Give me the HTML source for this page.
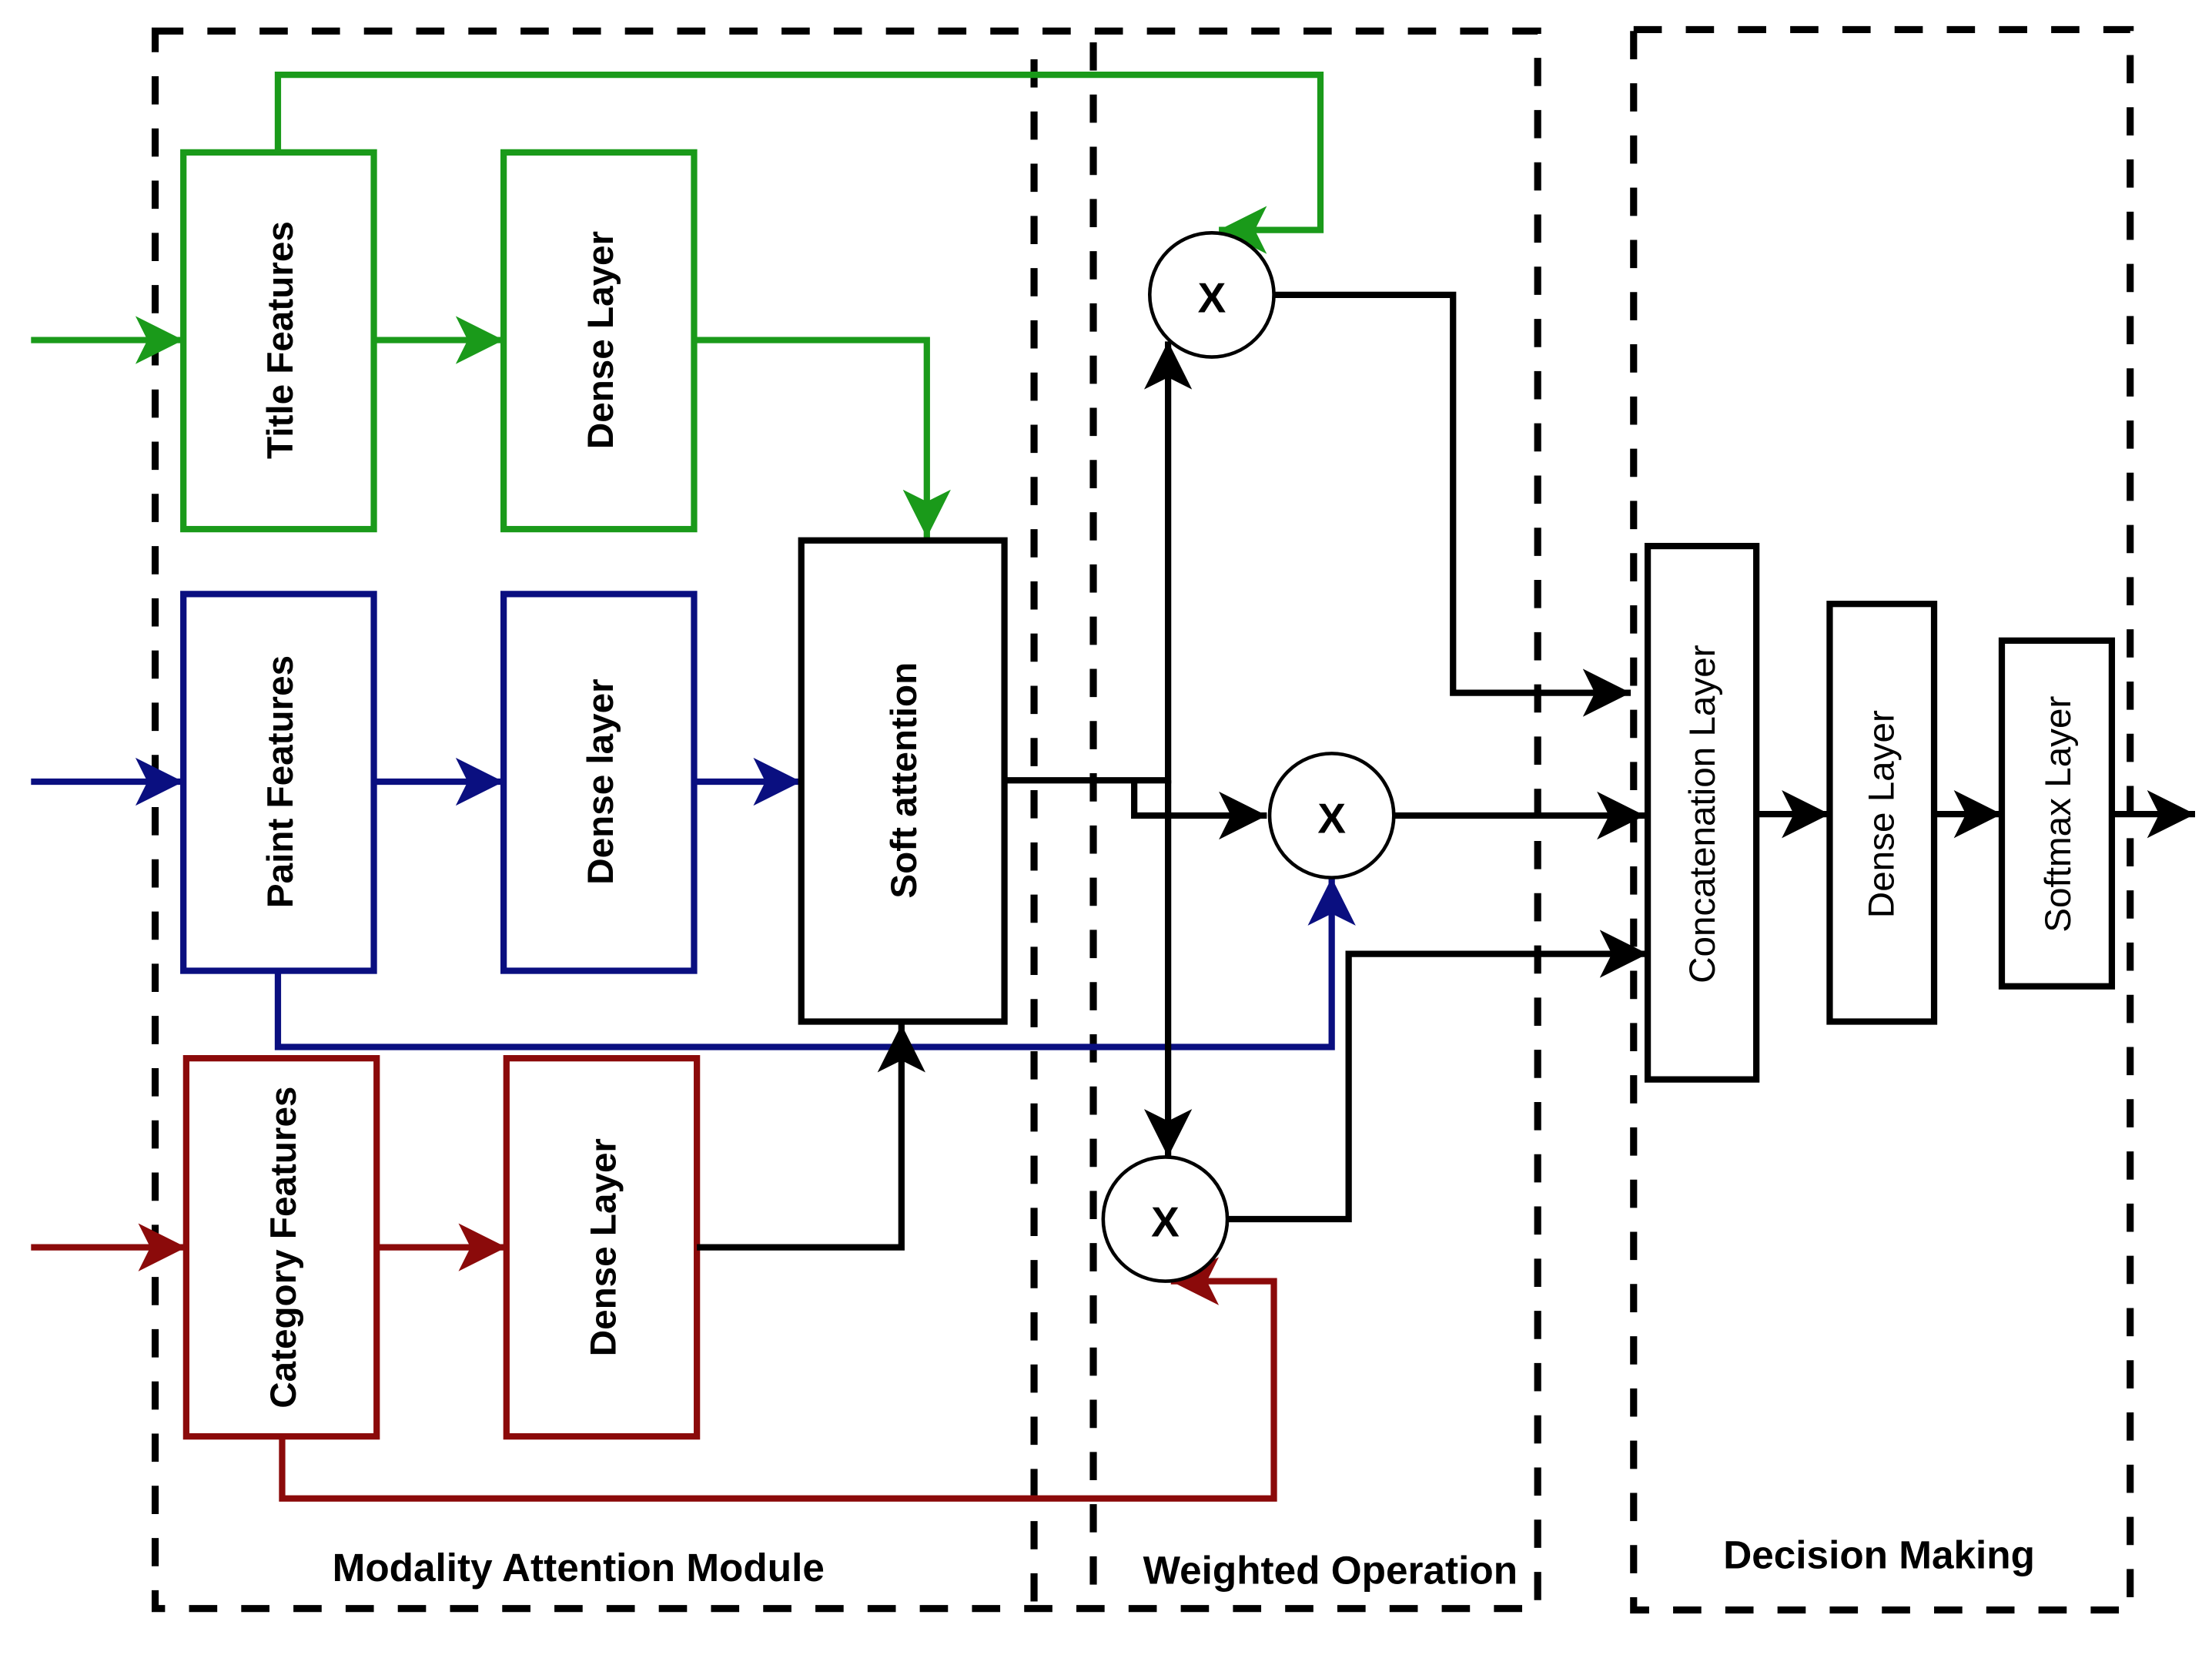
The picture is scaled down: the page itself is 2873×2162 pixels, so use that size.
<!DOCTYPE html>
<html><head><meta charset="utf-8"><style>
html,body{margin:0;padding:0;background:#fff;}
svg{display:block;}
text{font-family:"Liberation Sans",Arial,sans-serif;}
</style></head><body>
<svg width="2873" height="2162" viewBox="0 0 1568 1180" preserveAspectRatio="none" xmlns="http://www.w3.org/2000/svg">
<defs>
<marker id="ak" viewBox="0 0 20 20" refX="20" refY="10" markerWidth="34" markerHeight="34" markerUnits="userSpaceOnUse" orient="auto"><path d="M0,0 L20,10 L0,20 L5,10 z" fill="#000"/></marker>
<marker id="ag" viewBox="0 0 20 20" refX="20" refY="10" markerWidth="34" markerHeight="34" markerUnits="userSpaceOnUse" orient="auto"><path d="M0,0 L20,10 L0,20 L5,10 z" fill="#1a9a1a"/></marker>
<marker id="ab" viewBox="0 0 20 20" refX="20" refY="10" markerWidth="34" markerHeight="34" markerUnits="userSpaceOnUse" orient="auto"><path d="M0,0 L20,10 L0,20 L5,10 z" fill="#0a0f80"/></marker>
<marker id="ar" viewBox="0 0 20 20" refX="20" refY="10" markerWidth="34" markerHeight="34" markerUnits="userSpaceOnUse" orient="auto"><path d="M0,0 L20,10 L0,20 L5,10 z" fill="#8b0a0a"/></marker>
</defs>
<g fill="none" stroke="#000" stroke-width="5" stroke-dasharray="20 17">
<rect x="110" y="22" width="980" height="1118"/>
<line x1="733" y1="42" x2="733" y2="1140"/>
<line x1="775" y1="30" x2="775" y2="1140"/>
<rect x="1158" y="21" width="352" height="1120"/>
</g>
<g fill="none" stroke-width="4.5">
<g stroke="#1a9a1a">
<rect x="130" y="108" width="135" height="267" fill="#fff"/>
<rect x="357" y="108" width="135" height="267" fill="#fff"/>
<path d="M22,241 H130" marker-end="url(#ag)"/>
<path d="M265,241 H357" marker-end="url(#ag)"/>
<path d="M492,241 H657 V381" marker-end="url(#ag)"/>
<path d="M197,108 V53 H936 V163 H864" marker-end="url(#ag)"/>
</g>
<g stroke="#0a0f80">
<rect x="130" y="421" width="135" height="267" fill="#fff"/>
<rect x="357" y="421" width="135" height="267" fill="#fff"/>
<path d="M22,554 H130" marker-end="url(#ab)"/>
<path d="M265,554 H357" marker-end="url(#ab)"/>
<path d="M492,554 H568" marker-end="url(#ab)"/>
<path d="M197,688 V742 H944 V622" marker-end="url(#ab)"/>
</g>
<g stroke="#8b0a0a">
<rect x="132" y="750" width="135" height="268" fill="#fff"/>
<rect x="359" y="750" width="135" height="268" fill="#fff"/>
<path d="M22,884 H132" marker-end="url(#ar)"/>
<path d="M267,884 H359" marker-end="url(#ar)"/>
<path d="M200,1018 V1062 H903 V908 H830" marker-end="url(#ar)"/>
</g>
<g stroke="#000">
<path d="M494,884 H639 V726" marker-end="url(#ak)"/>
<path d="M712,553 H828 V242" marker-end="url(#ak)"/>
<path d="M828,553 V820" marker-end="url(#ak)"/>
<path d="M804,553 V578 H898" marker-end="url(#ak)"/>
<path d="M903,209 H1030 V491 H1156" marker-end="url(#ak)"/>
<path d="M988,578 H1166" marker-end="url(#ak)"/>
<path d="M870,864 H956 V676 H1168" marker-end="url(#ak)"/>
<path d="M1245,577 H1297" marker-end="url(#ak)"/>
<path d="M1371,577 H1419" marker-end="url(#ak)"/>
<path d="M1497,577 H1556" marker-end="url(#ak)"/>
<rect x="568" y="383" width="144" height="341" fill="#fff"/>
<rect x="1168" y="387" width="77" height="378" fill="#fff"/>
<rect x="1297" y="428" width="74" height="296" fill="#fff"/>
<rect x="1419" y="454" width="78" height="245" fill="#fff"/>
</g>
<g stroke="#000" stroke-width="2.5" fill="#fff">
<circle cx="859" cy="209" r="44"/>
<circle cx="944" cy="578" r="44"/>
<circle cx="826" cy="864" r="44"/>
</g>
</g>
<g font-size="26" font-weight="bold" fill="#000" text-anchor="middle" dominant-baseline="central">
<text transform="translate(199,241) rotate(-90)">Title Features</text>
<text transform="translate(426,241) rotate(-90)">Dense Layer</text>
<text transform="translate(199,554) rotate(-90)">Paint Features</text>
<text transform="translate(426,554) rotate(-90)">Dense layer</text>
<text transform="translate(201,884) rotate(-90)">Category Features</text>
<text transform="translate(428,884) rotate(-90)">Dense Layer</text>
<text transform="translate(641,553) rotate(-90)">Soft attention</text>
<text x="859" y="211" font-size="30">X</text>
<text x="944" y="580" font-size="30">X</text>
<text x="826" y="866" font-size="30">X</text>
<text x="410" y="1111" font-size="28">Modality Attention Module</text>
<text x="943" y="1113" font-size="28">Weighted Operation</text>
<text x="1332" y="1102" font-size="28">Decision Making</text>
</g>
<g font-size="26" fill="#000" text-anchor="middle" dominant-baseline="central">
<text transform="translate(1207,577) rotate(-90)">Concatenation Layer</text>
<text transform="translate(1334,577) rotate(-90)">Dense Layer</text>
<text transform="translate(1459,577) rotate(-90)">Softmax Layer</text>
</g>
</svg>
</body></html>
